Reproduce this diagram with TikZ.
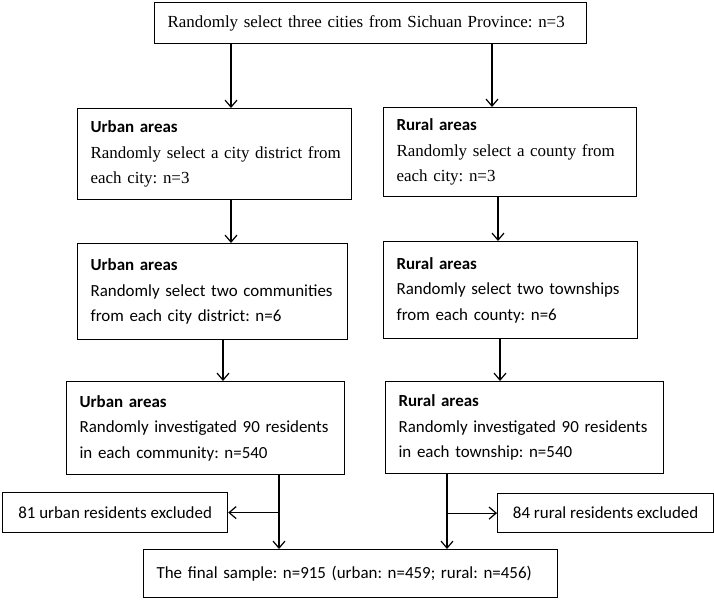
\documentclass[tikz,border=0pt]{standalone}
\usepackage{fontspec}
\setmainfont{LiberationSerif}[Extension=.ttf, UprightFont=*-Regular, BoldFont=*-Bold]
\newfontfamily\calib{Carlito}
\frenchspacing
\usetikzlibrary{arrows.meta}
\tikzset{
  box/.style={draw, line width=1.2bp, anchor=north west, inner xsep=13bp, inner ysep=0pt,
    align=left, font=\fontsize{17}{25.5}\selectfont},
  sbox/.style={draw, line width=1.2bp, anchor=north west, inner ysep=0pt,
    align=center, font=\fontsize{17}{25.5}\selectfont\calib},
  arr/.style={line width=1.2bp, -{Straight Barb[length=7bp,width=12bp]}},
}
\begin{document}
\begin{tikzpicture}[x=1bp,y=-1bp]
\useasboundingbox (0,0) rectangle (714,600);
% boxes
\node[box, text width=406bp, minimum height=41bp] (top) at (154,2)
  {Randomly select three cities from Sichuan Province: n=3};
\node[box, text width=248bp, minimum height=91bp] (L1) at (77,108)
  {{\calib\bfseries Urban areas}\\
   \makebox[248bp][s]{Randomly select a city district from}\\
   each city: n=3};
\node[box, text width=227bp, minimum height=89bp] (R1) at (383,107)
  {{\calib\bfseries Rural areas}\\
   \makebox[227bp][s]{Randomly select a county from}\\
   each city: n=3};
\node[box, text width=244bp, minimum height=96bp] (L2) at (77,243)
  {{\calib\bfseries Urban areas}\\
   {\calib\makebox[244bp][s]{Randomly select two communities}}\\
   {\calib from each city district: n=6}};
\node[box, text width=228bp, minimum height=97bp] (R2) at (383,241)
  {{\calib\bfseries Rural areas}\\
   {\calib\makebox[228bp][s]{Randomly select two townships}}\\
   {\calib from each county: n=6}};
\node[box, text width=252bp, minimum height=93bp] (L3) at (66,381)
  {{\calib\bfseries Urban areas}\\
   {\calib\makebox[252bp][s]{Randomly investigated 90 residents}}\\
   {\calib in each community: n=540}};
\node[box, text width=252bp, minimum height=92bp] (R3) at (385,381)
  {{\calib\bfseries Rural areas}\\
   {\calib\makebox[252bp][s]{Randomly investigated 90 residents}}\\
   {\calib in each township: n=540}};
\node[sbox, minimum width=225bp, minimum height=40bp] (ex1) at (2,492)
  {81 urban residents excluded};
\node[sbox, minimum width=216bp, minimum height=39bp] (ex2) at (497,493)
  {84 rural residents excluded};
\node[box, text width=388bp, minimum height=48bp] (bot) at (143,549)
  {{\calib The final sample: n=915 (urban: n=459; rural: n=456)}};
% connector x positions
\coordinate (xa) at (231,0);
\coordinate (xb) at (223,0);
\coordinate (xc) at (279,0);
\coordinate (xd) at (492,0);
\coordinate (xe) at (498,0);
\coordinate (xf) at (500,0);
\coordinate (xg) at (447,0);
% connectors
\draw[arr] (top.south -| xa) -- (L1.north -| xa);
\draw[arr] (top.south -| xd) -- (R1.north -| xd);
\draw[arr] (L1.south -| xa) -- (L2.north -| xa);
\draw[arr] (R1.south -| xe) -- (R2.north -| xe);
\draw[arr] (L2.south -| xb) -- (L3.north -| xb);
\draw[arr] (R2.south -| xf) -- (R3.north -| xf);
\draw[arr] (L3.south -| xc) -- (bot.north -| xc);
\draw[arr] (R3.south -| xg) -- (bot.north -| xg);
\draw[arr] (ex1.east -| xc) -- (ex1.east);
\draw[arr] (ex2.west -| xg) -- (ex2.west);
\end{tikzpicture}
\end{document}
